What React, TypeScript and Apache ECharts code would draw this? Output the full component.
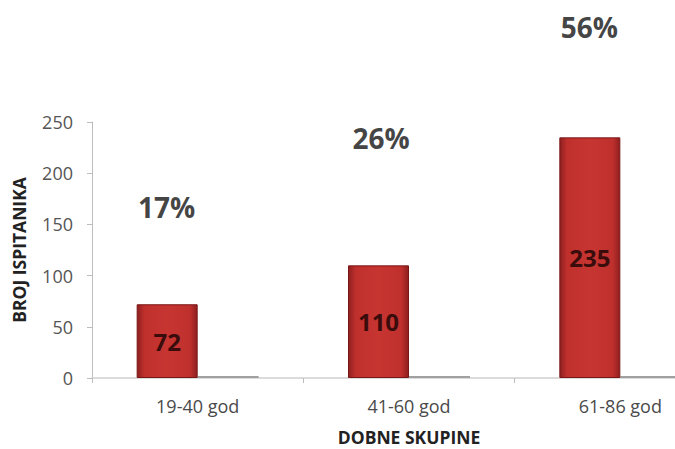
import React, { useEffect, useRef } from "react";
import * as echarts from "echarts";

const categories = ["19-40 god", "41-60 god", "61-86 god"];
const counts = [72, 110, 235];
const floorValues = [2, 2, 2];
const yTicks = [0, 50, 100, 150, 200, 250];
const pctOffsets: [number, number][] = [
  [-31, -97],
  [-28, -127],
  [-31, -110],
];

export default function App() {
  const ref = useRef<HTMLDivElement>(null);
  useEffect(() => {
    if (!ref.current) return;
    document.body.style.margin = "0";
    document.body.style.overflow = "hidden";
    const chart = echarts.init(ref.current, undefined, { renderer: "svg" });
    const total = counts.reduce((a, b) => a + b, 0);
    const redGrad = new echarts.graphic.LinearGradient(0, 0, 1, 0, [
      { offset: 0, color: "#8e1f1f" },
      { offset: 0.12, color: "#bf302d" },
      { offset: 0.5, color: "#c73531" },
      { offset: 0.88, color: "#bf302d" },
      { offset: 1, color: "#8e1f1f" },
    ]);
    chart.setOption({
      animation: false,
      backgroundColor: "#ffffff",
      grid: {
        left: 92,
        top: 122,
        bottom: 71,
        width: 634,
        outerBoundsMode: "none",
        containLabel: false,
      },
      xAxis: {
        type: "category",
        data: categories,
        name: "DOBNE SKUPINE",
        nameLocation: "middle",
        nameGap: 50,
        nameMoveOverlap: false,
        nameTextStyle: {
          fontFamily: "Open Sans",
          fontWeight: "bold",
          fontSize: 17.5,
          color: "#222",
        },
        axisLine: { lineStyle: { color: "#cfcfcf", width: 1.5 } },
        axisTick: { show: true, length: 5, lineStyle: { color: "#bdbdbd" } },
        axisLabel: {
          fontFamily: "Open Sans",
          fontSize: 18,
          color: "#4a4a4a",
          margin: 19,
        },
      },
      yAxis: {
        type: "value",
        min: yTicks[0],
        max: yTicks[yTicks.length - 1],
        interval: 50,
        name: "BROJ ISPITANIKA",
        nameLocation: "middle",
        nameGap: 64,
        nameMoveOverlap: false,
        nameTextStyle: {
          fontFamily: "Open Sans",
          fontWeight: "bold",
          fontSize: 17.5,
          color: "#222",
        },
        axisLine: { show: true, lineStyle: { color: "#bdbdbd" } },
        axisTick: { show: true, length: 5, lineStyle: { color: "#bdbdbd" } },
        splitLine: { show: false },
        axisLabel: {
          fontFamily: "Open Sans",
          fontSize: 18,
          color: "#555",
          margin: 19,
        },
      },
      series: [
        {
          type: "bar",
          data: counts,
          barWidth: 61,
          barGap: "0%",
          itemStyle: {
            color: redGrad,
            borderColor: "#7a1616",
            borderWidth: 1,
          },
          label: {
            show: true,
            position: "inside",
            fontFamily: "Open Sans",
            fontWeight: "bold",
            fontSize: 24,
            color: "#3a0c0c",
          },
          z: 3,
        },
        {
          type: "bar",
          data: floorValues,
          barWidth: 61,
          itemStyle: { color: "#a0a0a0" },
          z: 2,
        },
        {
          type: "scatter",
          symbolSize: 0,
          clip: false,
          data: counts.map((v, i) => ({
            value: v,
            label: {
              show: true,
              position: "inside",
              offset: pctOffsets[i],
              formatter: () => Math.round((v / total) * 100) + "%",
              fontFamily: "Open Sans",
              fontWeight: "bold",
              fontSize: 28,
              color: "#111",
            },
          })),
          z: 4,
        },
      ],
    });
    return () => chart.dispose();
  }, []);
  return (
    <div
      ref={ref}
      style={{ position: "fixed", left: 0, top: 0, width: 675, height: 449 }}
    />
  );
}
